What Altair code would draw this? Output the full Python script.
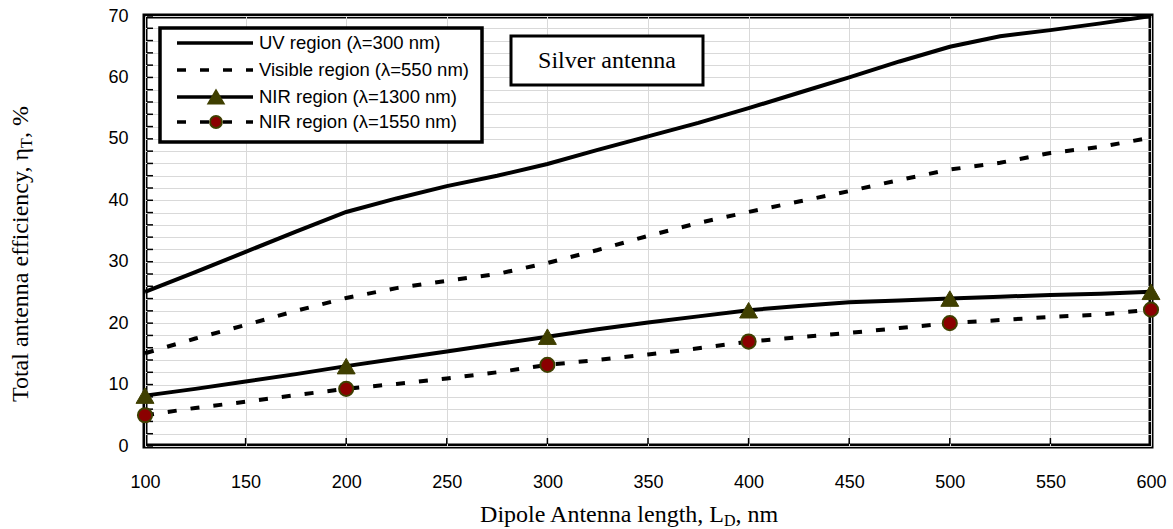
import altair as alt
import pandas as pd

# Dipole length (nm) sampled every 25 nm
lengths = [100, 125, 150, 175, 200, 225, 250, 275, 300, 325, 350,
           375, 400, 425, 450, 475, 500, 525, 550, 575, 600]

# Total antenna efficiency (%) for each wavelength region
uv = [25.1, 28.3, 31.6, 34.9, 38.1, 40.3, 42.3, 44.0, 45.9, 48.2, 50.4,
      52.6, 55.0, 57.5, 60.0, 62.6, 65.0, 66.7, 67.7, 68.8, 70.0]
visible = [15.1, 17.5, 19.7, 22.0, 24.1, 25.7, 26.9, 28.0, 29.8, 31.9, 34.2,
           36.3, 38.1, 39.8, 41.5, 43.3, 45.0, 46.1, 47.7, 48.7, 50.2]
nir1300 = [8.2, 9.3, 10.5, 11.7, 13.0, 14.2, 15.4, 16.6, 17.8, 19.0, 20.1,
           21.1, 22.1, 22.8, 23.4, 23.7, 24.0, 24.3, 24.6, 24.8, 25.1]
nir1550 = [5.0, 6.2, 7.2, 8.3, 9.3, 10.1, 11.0, 12.0, 13.2, 14.0, 14.9,
           15.9, 17.0, 17.7, 18.4, 19.2, 20.0, 20.5, 21.0, 21.4, 22.2]

# Marker positions (every 100 nm)
marker_lengths = [100, 200, 300, 400, 500, 600]
nir1300_markers = [8.2, 13.0, 17.8, 22.1, 24.0, 25.1]
nir1550_markers = [5.0, 9.3, 13.2, 17.0, 20.0, 22.2]

series_names = ["UV region (λ=300 nm)", "Visible region (λ=550 nm)",
                "NIR region (λ=1300 nm)", "NIR region (λ=1550 nm)"]

y_ticks = list(range(0, 71, 2))
x_ticks = list(range(100, 601, 50))

lines_df = pd.concat([
    pd.DataFrame({"L": lengths, "y": vals, "s": name})
    for name, vals in zip(series_names, [uv, visible, nir1300, nir1550])
], ignore_index=True)
markers_df = pd.concat([
    pd.DataFrame({"L": marker_lengths, "y": nir1300_markers, "s": series_names[2]}),
    pd.DataFrame({"L": marker_lengths, "y": nir1550_markers, "s": series_names[3]}),
], ignore_index=True)
ytick_df = pd.DataFrame({"y": y_ticks})
xtick_df = pd.DataFrame({"L": x_ticks[1:-1]})
one = pd.DataFrame({"k": [0]})

SANS = "Liberation Sans"
SERIF = "Liberation Serif"
OLIVE = "#3f3f00"
DARKRED = "#8b0000"
DASH = [9, 14]

x_enc = alt.X("L:Q", scale=alt.Scale(domain=[100, 600], nice=False, zero=False),
              axis=alt.Axis(values=x_ticks, title=None, grid=True, gridColor="#d9d9d9",
                            gridWidth=1, ticks=False, tickSize=0, domain=False,
                            labelFont=SANS, labelFontSize=18, labelColor="black",
                            labelPadding=27, labelFlush=False))
y_enc = alt.Y("y:Q", scale=alt.Scale(domain=[0, 70], nice=False, zero=True),
              axis=alt.Axis(values=y_ticks,
                            labelExpr="datum.value % 10 == 0 ? datum.label : ''",
                            title=None, grid=True, gridColor="#d9d9d9", gridWidth=1,
                            ticks=False, tickSize=0, domain=False,
                            labelFont=SANS, labelFontSize=18, labelColor="black",
                            labelPadding=17))

base = alt.Chart(lines_df)


def series_line(name, dash=None):
    kw = dict(color="black", strokeWidth=4)
    if dash:
        kw["strokeDash"] = dash
    return base.transform_filter(alt.datum.s == name).mark_line(**kw).encode(x=x_enc, y=y_enc)


layers = []

# small inside tick marks along the left and bottom frame
layers.append(alt.Chart(ytick_df).mark_rule(color="black", strokeWidth=1.5).encode(
    y=y_enc, x=alt.value(2), x2=alt.value(8)))
layers.append(alt.Chart(xtick_df).mark_rule(color="black", strokeWidth=1.5).encode(
    x=x_enc, y=alt.value(422), y2=alt.value(428)))

layers.append(series_line(series_names[0]))
layers.append(series_line(series_names[1], DASH))
layers.append(series_line(series_names[2]))
layers.append(series_line(series_names[3], DASH))

mbase = alt.Chart(markers_df)
layers.append(mbase.transform_filter(alt.datum.s == series_names[2]).mark_point(
    shape="triangle-up", filled=True, fill=OLIVE, stroke=OLIVE, strokeWidth=1,
    size=320, opacity=1).encode(x=x_enc, y=y_enc))
layers.append(mbase.transform_filter(alt.datum.s == series_names[3]).mark_point(
    shape="circle", filled=True, fill=DARKRED, stroke=OLIVE, strokeWidth=2,
    size=200, opacity=1).encode(x=x_enc, y=y_enc))

# legend box
layers.append(alt.Chart(one).mark_rect(fill="white", stroke="black", strokeWidth=3.5).encode(
    x=alt.value(15), x2=alt.value(337), y=alt.value(12), y2=alt.value(126)))
legend_rows = [27, 54, 81, 106]
legend_dash = [None, DASH, None, DASH]
for name, ry, dash in zip(series_names, legend_rows, legend_dash):
    kw = dict(color="black", strokeWidth=3.5)
    if dash:
        kw["strokeDash"] = dash
    layers.append(alt.Chart(one).mark_rule(**kw).encode(
        x=alt.value(32), x2=alt.value(108), y=alt.value(ry)))
    layers.append(alt.Chart(one).mark_text(
        text=name, align="left", baseline="middle", font=SANS, fontSize=18.5,
        color="black").encode(x=alt.value(114), y=alt.value(ry)))
layers.append(alt.Chart(one).mark_point(
    shape="triangle-up", filled=True, fill=OLIVE, stroke=OLIVE, size=230,
    opacity=1).encode(x=alt.value(71), y=alt.value(legend_rows[2])))
layers.append(alt.Chart(one).mark_point(
    shape="circle", filled=True, fill=DARKRED, stroke=OLIVE, strokeWidth=2, size=140,
    opacity=1).encode(x=alt.value(71), y=alt.value(legend_rows[3])))

# "Silver antenna" annotation box
layers.append(alt.Chart(one).mark_rect(fill="white", stroke="black", strokeWidth=3).encode(
    x=alt.value(366), x2=alt.value(558), y=alt.value(20), y2=alt.value(69)))
layers.append(alt.Chart(one).mark_text(
    text="Silver antenna", align="center", baseline="middle", font=SERIF, fontSize=24,
    color="black").encode(x=alt.value(462), y=alt.value(45)))

# x-axis title with subscript
xt_x, xt_y = 579, 506
layers.append(alt.Chart(one).mark_text(
    text="Dipole Antenna length, L", align="right", baseline="alphabetic", font=SERIF,
    fontSize=24, color="black").encode(x=alt.value(xt_x), y=alt.value(xt_y)))
layers.append(alt.Chart(one).mark_text(
    text="D", align="left", baseline="alphabetic", font=SERIF, fontSize=16,
    color="black").encode(x=alt.value(xt_x), y=alt.value(xt_y + 4)))
layers.append(alt.Chart(one).mark_text(
    text=", nm", align="left", baseline="alphabetic", font=SERIF, fontSize=24,
    color="black").encode(x=alt.value(xt_x + 11.5), y=alt.value(xt_y)))

# y-axis title (rotated) with subscript
yt_x, yt_y = -117, 132
layers.append(alt.Chart(one).mark_text(
    text="Total antenna efficiency, η", angle=270, align="right", baseline="alphabetic",
    font=SERIF, fontSize=24, color="black").encode(x=alt.value(yt_x), y=alt.value(yt_y)))
layers.append(alt.Chart(one).mark_text(
    text="T", angle=270, align="left", baseline="alphabetic", font=SERIF, fontSize=16,
    color="black").encode(x=alt.value(yt_x + 4), y=alt.value(yt_y)))
layers.append(alt.Chart(one).mark_text(
    text=", %", angle=270, align="left", baseline="alphabetic", font=SERIF, fontSize=24,
    color="black").encode(x=alt.value(yt_x), y=alt.value(yt_y - 10)))

chart = alt.layer(*layers).properties(
    width=1006, height=430,
    padding={"left": 145, "top": 16, "right": 22, "bottom": 83},
    autosize=alt.AutoSizeParams(type="none"),
).configure_view(stroke="black", strokeWidth=5)

chart.save("out.html", embed_options={"renderer": "svg", "actions": False})
